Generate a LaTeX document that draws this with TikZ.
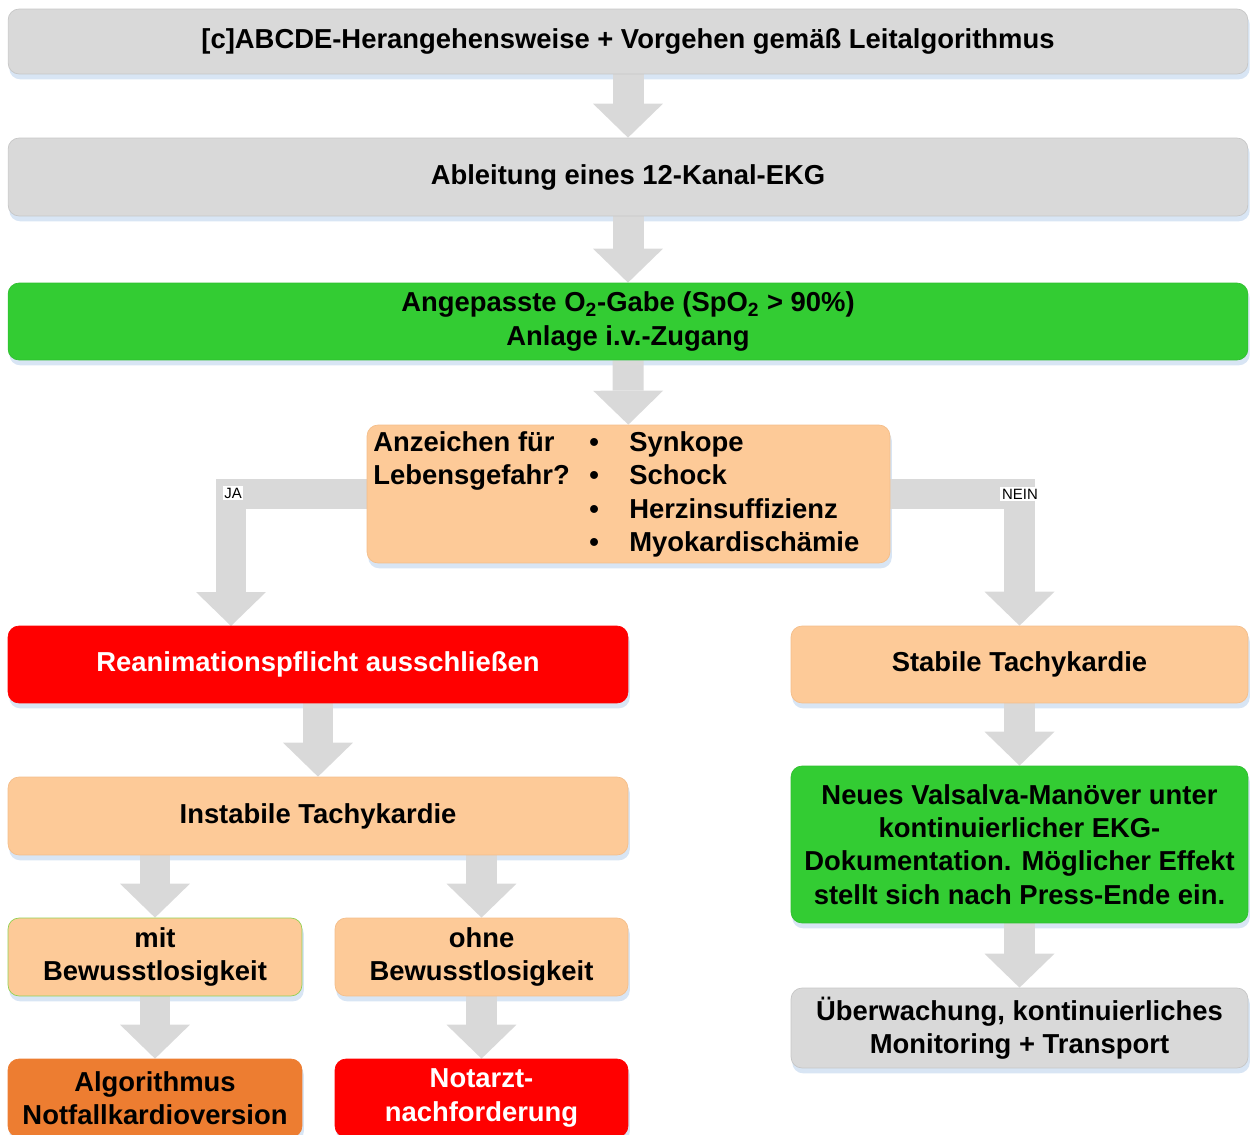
\documentclass[tikz,border=0pt]{standalone}
\usepackage{fontspec}
\setmainfont{Liberation Sans}
\usepackage{tikz}
\usetikzlibrary{arrows.meta,calc}
\definecolor{TachyGray}{HTML}{D9D9D9}
\definecolor{TachyGrayLine}{HTML}{C6C6C6}
\definecolor{TachyGreen}{HTML}{33CC33}
\definecolor{TachyGreenLine}{HTML}{2FBF2F}
\definecolor{TachyPeach}{HTML}{FDCA98}
\definecolor{TachyPeachLine}{HTML}{F4BE8A}
\definecolor{TachyRed}{HTML}{FF0000}
\definecolor{TachyOrange}{HTML}{ED7D31}
\definecolor{TachyLime}{HTML}{92D050}
\definecolor{TachyShadow}{HTML}{D8E5F4}
\definecolor{TachyArrow}{HTML}{D9D9D9}
\pgfdeclarelayer{shadowlayer}
\pgfdeclarelayer{arrowlayer}
\pgfsetlayers{shadowlayer,arrowlayer,main}
\tikzset{
  boxtext/.style={font=\bfseries\fontsize{15.6}{19}\selectfont, text=black, align=center},
  flowbox/.style={boxtext, rounded corners=0.22cm, line width=0.4pt, inner sep=0pt},
  graybox/.style={flowbox, fill=TachyGray, draw=TachyGrayLine},
  greenbox/.style={flowbox, fill=TachyGreen, draw=TachyGreenLine},
  peachbox/.style={flowbox, fill=TachyPeach, draw=TachyPeachLine},
  redbox/.style={flowbox, fill=TachyRed, draw=TachyRed, text=white},
  orangebox/.style={flowbox, fill=TachyOrange, draw=TachyOrange},
  boxshadow/.style={fill=TachyShadow, rounded corners=0.22cm},
  flowarrow/.style={draw=TachyArrow, line width=0.62cm, -{Triangle[length=0.68cm, width=1.4cm, line width=0pt]}},
  branchlabel/.style={font=\fontsize{8.5}{10}\selectfont, fill=white, inner sep=1pt}
}

\begin{document}
\begin{tikzpicture}[x=0.02cm, y=-0.02cm]
\useasboundingbox (0,0) rectangle (1252,1135);
% main column
\node[graybox, minimum width=24.8cm, minimum height=1.3cm] (abcde) at (628,41.5) {[c]ABCDE-Herangehensweise + Vorgehen gemäß Leitalgorithmus};
\node[graybox, minimum width=24.8cm, minimum height=1.56cm] (ekg) at (628,177) {Ableitung eines 12-Kanal-EKG};
\node[greenbox, minimum width=24.8cm, minimum height=1.54cm] (otwo) at (628,321.5) {Angepasste O\textsubscript{2}-Gabe (SpO\textsubscript{2} > 90\%)\\Anlage i.v.-Zugang};
\node[peachbox, minimum width=10.46cm, minimum height=2.76cm] (signs) at (628.5,494) {};
\node[boxtext, anchor=west, inner sep=0pt] (signlist) at (373,495) {%
  \begin{tabular}{@{}p{4.32cm}@{}p{0.8cm}@{}l@{}}
  Anzeichen für & \textbullet & Synkope\\
  Lebensgefahr? & \textbullet & Schock\\
   & \textbullet & Herzinsuffizienz\\
   & \textbullet & Myokardischämie
  \end{tabular}};
% JA branch
\node[redbox, minimum width=12.4cm, minimum height=1.54cm] (reanim) at (318,664.5) {Reanimationspflicht ausschließen};
\node[peachbox, minimum width=12.4cm, minimum height=1.56cm] (instabil) at (318,816) {Instabile Tachykardie};
\node[peachbox, draw=TachyLime, minimum width=5.88cm, minimum height=1.56cm] (mitbw) at (155,957) {mit\\Bewusstlosigkeit};
\node[peachbox, minimum width=5.86cm, minimum height=1.56cm] (ohnebw) at (481.5,957) {ohne\\Bewusstlosigkeit};
\node[orangebox, minimum width=5.88cm, minimum height=1.56cm] (kardio) at (155,1098) {Algorithmus\\Notfallkardioversion};
\node[redbox, minimum width=5.86cm, minimum height=1.56cm] (notarzt) at (481.5,1098) {Notarzt-\\nachforderung};
% NEIN branch
\node[peachbox, minimum width=9.14cm, minimum height=1.54cm] (stabil) at (1019.5,664.5) {Stabile Tachykardie};
\node[greenbox, minimum width=9.14cm, minimum height=3.14cm] (valsalva) at (1019.5,844.5) {Neues Valsalva-Manöver unter\\kontinuierlicher EKG-\\Dokumentation. Möglicher Effekt\\stellt sich nach Press-Ende ein.};
\node[graybox, minimum width=9.14cm, minimum height=1.6cm] (monitor) at (1019.5,1028) {Überwachung, kontinuierliches\\Monitoring + Transport};
\node[branchlabel] (jalabel) at (233,493) {JA};
\node[branchlabel] (neinlabel) at (1020,494) {NEIN};
\coordinate (jaturn) at (231,626);
% soft shadows
\begin{pgfonlayer}{shadowlayer}
\foreach \nm in {abcde,ekg,otwo,signs,reanim,instabil,mitbw,ohnebw,kardio,notarzt,stabil,valsalva,monitor}
  \fill[boxshadow] ($(\nm.south west)+(1.5,5)$) rectangle ($(\nm.north east)+(1.5,5)$);
\end{pgfonlayer}
% block arrows
\begin{pgfonlayer}{arrowlayer}
\draw[flowarrow] (abcde) -- (ekg);
\draw[flowarrow] (ekg) -- (otwo);
\draw[flowarrow] (otwo) -- (signs);
\draw[flowarrow] (signs.center) -| (jaturn);
\draw[flowarrow] (signs.center) -| (stabil.north);
\draw[flowarrow] (reanim) -- (instabil);
\draw[flowarrow] (instabil.south -| mitbw) -- (mitbw);
\draw[flowarrow] (instabil.south -| ohnebw) -- (ohnebw);
\draw[flowarrow] (mitbw) -- (kardio);
\draw[flowarrow] (ohnebw) -- (notarzt);
\draw[flowarrow] (stabil) -- (valsalva);
\draw[flowarrow] (valsalva) -- (monitor);
\end{pgfonlayer}
\end{tikzpicture}
\end{document}
